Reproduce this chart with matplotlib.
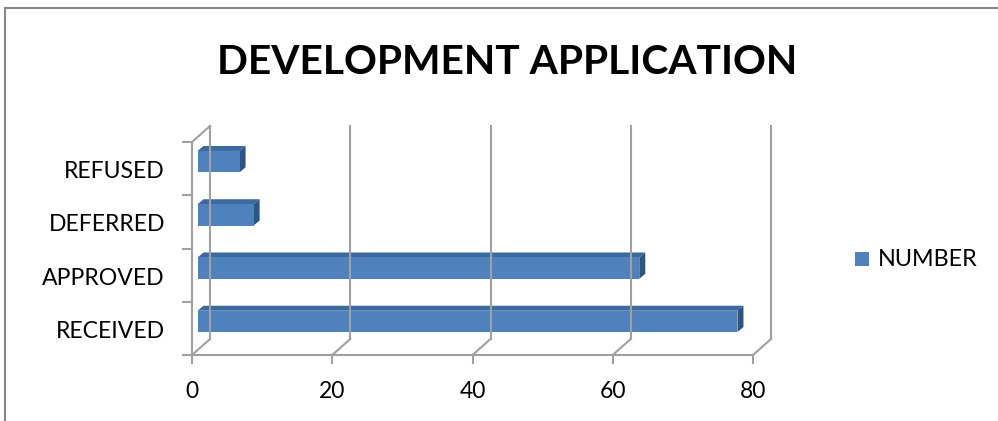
import matplotlib
matplotlib.use("Agg")
from matplotlib import pyplot as plt
from matplotlib.patches import Polygon, Rectangle
from matplotlib.lines import Line2D
from matplotlib.transforms import ScaledTranslation

# data
categories = ["RECEIVED", "APPROVED", "DEFERRED", "REFUSED"]
number = [77, 63, 8, 6]
xticks = [0, 20, 40, 60, 80]

W, H = 998, 421
fig = plt.figure(figsize=(W / 100, H / 100), dpi=100)
plt.rcParams['font.family'] = ['Lato', 'DejaVu Sans']

# front plane of the plot (pixels from top-left)
L, R, T, B = 192, 753, 142, 355
ax = fig.add_axes([L / W, 1 - B / H, (R - L) / W, (B - T) / H])
ax.set_xlim(0, 80)
ax.set_ylim(-0.5, 3.5)
ax.axis("off")

grid_c = "#a0a0a0"
gw = 1.5

def off(dx, dy):
    # shift in pixels (dy up)
    return ax.transData + ScaledTranslation(dx / 100, dy / 100, fig.dpi_scale_trans)

def pline(xs_, ys_):
    # line in display pixels
    ax.add_line(Line2D(xs_, ys_, color=grid_c, lw=gw, transform=None, clip_on=False))

back = off(18, 16)

# back wall gridlines
for x in xticks:
    ax.add_line(Line2D([x, x], [-0.5, 3.5], color=grid_c, lw=gw, transform=back, clip_on=False))
# floor diagonals
for x in xticks:
    p0 = ax.transData.transform((x, -0.5))
    pline([p0[0], p0[0] + 18], [p0[1], p0[1] + 16])
# left wall top diagonal
p0 = ax.transData.transform((0, 3.5))
pline([p0[0], p0[0] + 18], [p0[1], p0[1] + 16])

# front axes lines
ax.plot([0, 80], [-0.5, -0.5], color=grid_c, lw=gw, clip_on=False)
ax.plot([0, 0], [-0.5, 3.5], color=grid_c, lw=gw, clip_on=False)
for x in xticks:
    p = ax.transData.transform((x, -0.5))
    pline([p[0], p[0]], [p[1], p[1] - 8])
for i in range(5):
    p = ax.transData.transform((0, i - 0.5))
    pline([p[0] - 9, p[0]], [p[1], p[1]])

# 3d bars
front = "#4f81bd"
top_c = "#3d6a9e"
side_c = "#2c5582"
bh = 0.4
xs = 80 / (R - L)
ys = 4 / (B - T)
fx, fy = 5.5 * xs, 7 * ys
dx, dy = 6 * xs, 5 * ys
for i, v in enumerate(number):
    y0 = i - bh / 2 + fy
    y1 = i + bh / 2 + fy
    x0 = fx
    x1 = v + fx
    ax.add_patch(Polygon([(x0, y1), (x1, y1), (x1 + dx, y1 + dy), (x0 + dx, y1 + dy)],
                         closed=True, fc=top_c, ec="none", clip_on=False))
    ax.add_patch(Polygon([(x1, y0), (x1 + dx, y0 + dy), (x1 + dx, y1 + dy), (x1, y1)],
                         closed=True, fc=side_c, ec="none", clip_on=False))
    ax.add_patch(Rectangle((x0, y0), v, bh, fc=front, ec="none", clip_on=False))

# labels
for i, c in enumerate(categories):
    ax.text(-27 * xs, i - 3 * ys, c, ha="right", va="center", fontsize=16.6, color="#000000")
for x in xticks:
    ax.text(x, -0.5 - 37 * ys, str(x), ha="center", va="center", fontsize=16.5)

fig.text(507 / W, 1 - 63 / H, "DEVELOPMENT APPLICATION", ha="center", va="center",
         fontsize=29.3, fontweight="bold")

# legend
fig.patches.append(Rectangle((855 / W, 1 - 266 / H), 14 / W, 14 / H, fc=front, ec="none",
                             transform=fig.transFigure))
fig.text(878 / W, 1 - 260 / H, "NUMBER", ha="left", va="center", fontsize=16.8)

# chart border
fig.add_artist(Line2D([5 / W, 1], [1 - 8 / H, 1 - 8 / H], color="#868686", lw=1.5,
                      transform=fig.transFigure))
fig.add_artist(Line2D([5 / W, 5 / W], [0, 1 - 8 / H], color="#868686", lw=1.5,
                      transform=fig.transFigure))

fig.savefig("out.png", dpi=100)
